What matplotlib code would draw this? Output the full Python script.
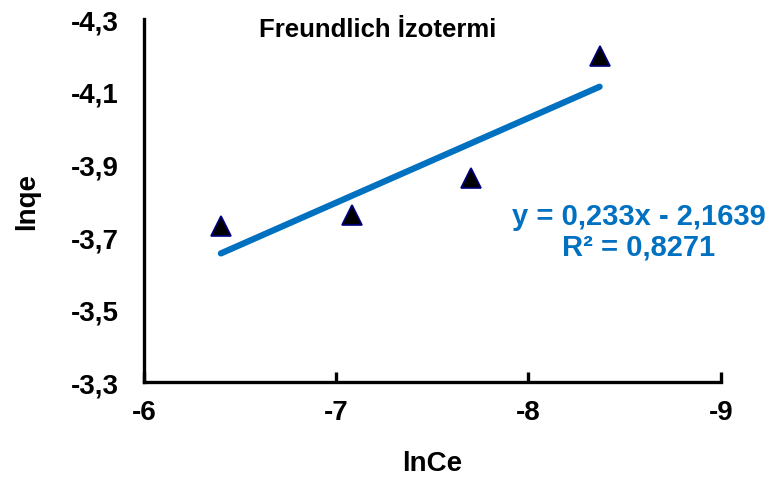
import numpy as np
import matplotlib.pyplot as plt

# data
lnCe = [-6.40, -7.08, -7.70, -8.37]
lnqe = [-3.73, -3.76, -3.862, -4.198]
slope = 0.233
intercept = -2.1639
r2 = 0.8271

xticks = [-6, -7, -8, -9]
yticks = [-3.3, -3.5, -3.7, -3.9, -4.1, -4.3]

plt.rcParams['font.family'] = ['Liberation Sans', 'DejaVu Sans']
plt.rcParams['font.weight'] = 'bold'

fig = plt.figure(figsize=(7.7, 4.81), dpi=100)
ax = fig.add_axes([0.187, 0.203, 0.749, 0.755])

# trendline over data range
xl = np.array([min(lnCe), max(lnCe)])
ax.plot(xl, slope * xl + intercept, color='#0070C0', lw=4.5,
        solid_capstyle='round', zorder=2)

ax.plot(lnCe, lnqe, linestyle='none', marker='^', markersize=15,
        markerfacecolor='black', markeredgecolor='#000080',
        markeredgewidth=1.2, zorder=3)

ax.set_xlim(-6, -9)
ax.set_ylim(-3.3, -4.3)
ax.set_xticks(xticks)
ax.set_yticks(yticks)
ax.set_xticklabels([str(t) for t in xticks])
ax.set_yticklabels([('%.1f' % t).replace('.', ',') for t in yticks])

for s in ['top', 'right']:
    ax.spines[s].set_visible(False)
for s in ['left', 'bottom']:
    ax.spines[s].set_linewidth(2.4)
    ax.spines[s].set_color('black')

ax.tick_params(axis='x', direction='in', length=7, width=2.4,
               labelsize=20, pad=12)
ax.tick_params(axis='y', length=0, labelsize=20, pad=18)

ax.set_xlabel('lnCe', fontsize=20, fontweight='bold', labelpad=18)
ax.set_ylabel('lnqe', fontsize=20, fontweight='bold', labelpad=22)

ax.text(0.405, 0.972, 'Freundlich İzotermi', transform=ax.transAxes,
        ha='center', va='center', fontsize=18.5, fontweight='bold')

eq = 'y = %s' % ('%.3fx - %.4f' % (slope, -intercept)).replace('.', ',')
ax.text(0.858, 0.416, eq + '\nR² = ' + ('%.4f' % r2).replace('.', ','),
        transform=ax.transAxes, ha='center', va='center', fontsize=21,
        fontweight='bold', color='#0070C0', linespacing=1.1)

fig.savefig('out.png', dpi=100)
